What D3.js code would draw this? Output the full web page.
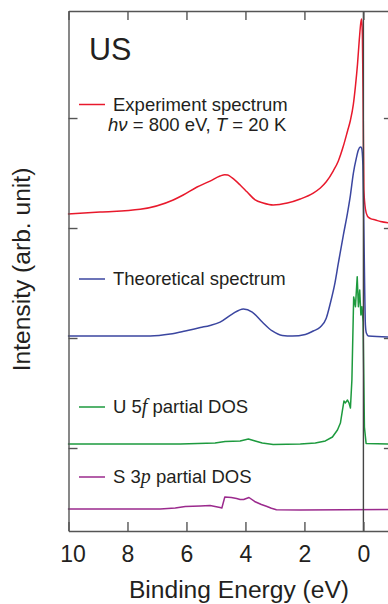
<!DOCTYPE html>
<html>
<head>
<meta charset="utf-8">
<script src="https://cdn.jsdelivr.net/npm/d3@7"></script>
<style>
  body { margin: 0; background: #fff; }
  svg { display: block; font-family: "Liberation Sans", Arial, Helvetica, sans-serif; }
  .axis path, .axis line { stroke: #555; stroke-width: 1.4; }
  .axis text { fill: #231f20; font-size: 23px; }
</style>
</head>
<body>
<div id="chart"></div>
<script>
// 横轴刻度 (binding energy, eV)
const xTicks = [10, 8, 6, 4, 2, 0];
const yTicks = [0, 1, 2, 3];

// 实验谱 [E, intensity]
const expSpectrum = [
  [10.02, 2.127], [8.93, 2.145], [7.57, 2.170], [6.45, 2.255], [6.11, 2.300],
  [5.64, 2.373], [5.20, 2.427], [4.86, 2.473], [4.70, 2.485], [4.60, 2.482],
  [4.45, 2.455], [4.18, 2.391], [3.94, 2.327], [3.67, 2.255], [3.40, 2.227],
  [3.06, 2.209], [2.58, 2.227], [2.14, 2.264], [1.70, 2.318], [1.46, 2.364],
  [1.26, 2.420], [1.02, 2.520], [0.85, 2.610], [0.68, 2.745], [0.54, 2.880],
  [0.44, 2.980], [0.34, 3.127], [0.27, 3.290], [0.20, 3.490], [0.14, 3.710],
  [0.085, 3.873], [0.06, 3.900], [0.034, 3.755], [0.007, 3.070], [-0.017, 2.345],
  [-0.068, 2.173], [-0.136, 2.109], [-0.24, 2.086], [-0.41, 2.073], [-0.58, 2.059],
  [-1.02, 2.045]
];

// 理论谱
const theorySpectrum = [
  [10.02, 1.018], [7.23, 1.018], [6.55, 1.036], [6.04, 1.064], [5.53, 1.095],
  [5.20, 1.114], [4.86, 1.145], [4.45, 1.218], [4.07, 1.264], [3.77, 1.236],
  [3.43, 1.145], [3.09, 1.064], [2.75, 1.023], [2.41, 1.018], [1.97, 1.032],
  [1.70, 1.064], [1.46, 1.100], [1.26, 1.180], [1.12, 1.318], [0.98, 1.480],
  [0.85, 1.680], [0.68, 1.936], [0.54, 2.136], [0.44, 2.300], [0.34, 2.500],
  [0.24, 2.636], [0.17, 2.709], [0.10, 2.736], [0.06, 2.727], [0.017, 2.573],
  [-0.017, 1.980], [-0.044, 1.436], [-0.068, 1.118], [-0.10, 1.045], [-0.17, 1.018],
  [-1.02, 1.009]
];

// U 5f 分态密度
const u5fDos = [
  [10.02, 0.036], [6.21, 0.036], [5.03, 0.045], [4.69, 0.059], [4.18, 0.064],
  [3.90, 0.082], [3.67, 0.064], [3.43, 0.045], [3.06, 0.032], [2.14, 0.036],
  [1.63, 0.045], [1.29, 0.064], [1.05, 0.100], [0.88, 0.164], [0.78, 0.227],
  [0.71, 0.345], [0.66, 0.427], [0.61, 0.410], [0.54, 0.436], [0.49, 0.410],
  [0.44, 0.364], [0.39, 0.620], [0.33, 1.373], [0.27, 1.285], [0.21, 1.557],
  [0.17, 1.285], [0.126, 1.436], [0.085, 1.209], [0.05, 1.285], [0.01, 1.145],
  [-0.034, 0.190], [-0.092, 0.041], [-1.02, 0.036]
];

// S 3p 分态密度
const s3pDos = [
  [10.02, -0.555], [6.89, -0.555], [6.38, -0.545], [6.04, -0.532], [5.53, -0.527],
  [5.20, -0.523], [4.86, -0.541], [4.80, -0.545], [4.70, -0.445], [4.48, -0.450],
  [4.30, -0.459], [4.18, -0.468], [4.06, -0.468], [3.88, -0.450], [3.69, -0.486],
  [3.46, -0.514], [3.29, -0.530], [3.12, -0.548], [2.95, -0.561], [2.14, -0.564],
  [-1.02, -0.559]
];

const width = 388, height = 604;
const plotLeft = 68.5, plotRight = 392.9, plotTop = 11, plotBottom = 531;

const svg = d3.select('#chart')
  .append('svg')
  .attr('width', width)
  .attr('height', height);

// 比例尺
const x = d3.scaleLinear().domain([10, -1]).range([plotLeft, plotRight]);
const y = d3.scaleLinear().domain([-0.7545, 3.973]).range([plotBottom, plotTop]);

// 曲线
const series = [
  { data: expSpectrum, color: '#e8192c', curve: d3.curveMonotoneX },
  { data: theorySpectrum, color: '#3b46a0', curve: d3.curveMonotoneX },
  { data: u5fDos, color: '#1d9a3e', curve: d3.curveLinear },
  { data: s3pDos, color: '#9b2a8d', curve: d3.curveLinear }
];

series.forEach(s => {
  const line = d3.line()
    .x(d => x(d[0]))
    .y(d => y(d[1]))
    .curve(s.curve);
  svg.append('path')
    .datum(s.data)
    .attr('d', line)
    .attr('fill', 'none')
    .attr('stroke', s.color)
    .attr('stroke-width', 1.5)
    .attr('stroke-linejoin', 'round');
});

// 零点竖线
svg.append('line')
  .attr('x1', x(0)).attr('x2', x(0))
  .attr('y1', plotTop).attr('y2', plotBottom)
  .attr('stroke', '#444')
  .attr('stroke-width', 1.4);

// 坐标轴
svg.append('g')
  .attr('class', 'axis')
  .attr('transform', `translate(0, ${plotBottom})`)
  .call(d3.axisBottom(x).tickValues(xTicks).tickSizeInner(-9).tickSizeOuter(0).tickPadding(15))
  .selectAll('text')
  .attr('dx', d => d === 10 ? 4 : 0);

svg.append('g')
  .attr('class', 'axis')
  .attr('transform', `translate(0, ${plotTop})`)
  .call(d3.axisTop(x).tickValues(xTicks).tickSizeInner(-9).tickSizeOuter(0).tickFormat(''));

svg.append('g')
  .attr('class', 'axis')
  .attr('transform', `translate(${plotLeft}, 0)`)
  .call(d3.axisLeft(y).tickValues(yTicks).tickSizeInner(-9).tickSizeOuter(0).tickFormat(''));

svg.append('g')
  .attr('class', 'axis')
  .attr('transform', `translate(${plotRight}, 0)`)
  .call(d3.axisRight(y).tickValues(yTicks).tickSizeInner(-9).tickSizeOuter(0).tickFormat(''));

// 轴标题
svg.append('text')
  .attr('x', 239)
  .attr('y', 598)
  .attr('text-anchor', 'middle')
  .attr('fill', '#231f20')
  .style('font-size', '24.6px')
  .text('Binding Energy (eV)');

svg.append('text')
  .attr('transform', 'translate(30, 269.5) rotate(-90)')
  .attr('text-anchor', 'middle')
  .attr('fill', '#231f20')
  .style('font-size', '24.6px')
  .text('Intensity (arb. unit)');

// 样品名
svg.append('text')
  .attr('x', 89)
  .attr('y', 60)
  .attr('fill', '#231f20')
  .style('font-size', '30.5px')
  .text('US');

// 图例
const serif = '"Liberation Serif", "Times New Roman", serif';
const legend = [
  { y: 104.5, color: '#e8192c', parts: [['Experiment spectrum']] },
  { y: 279, color: '#3b46a0', parts: [['Theoretical spectrum']] },
  { y: 407, color: '#1d9a3e', parts: [['U 5'], ['f', 'serif'], [' partial DOS']] },
  { y: 477, color: '#9b2a8d', parts: [['S 3'], ['p', 'serif'], [' partial DOS']] }
];

legend.forEach(l => {
  svg.append('line')
    .attr('x1', 79).attr('x2', 105)
    .attr('y1', l.y).attr('y2', l.y)
    .attr('stroke', l.color)
    .attr('stroke-width', 1.5);
  const t = svg.append('text')
    .attr('x', 113)
    .attr('y', l.y + 6)
    .attr('fill', '#231f20')
    .style('font-size', '18.5px');
  l.parts.forEach(p => {
    const ts = t.append('tspan').text(p[0]);
    if (p[1] === 'serif') {
      ts.style('font-family', serif).style('font-style', 'italic').style('font-size', '20px');
    }
  });
});

// 实验条件
const cond = svg.append('text')
  .attr('x', 108)
  .attr('y', 131)
  .attr('fill', '#231f20')
  .style('font-size', '18.5px');
cond.append('tspan').style('font-style', 'italic').text('h\u03bd');
cond.append('tspan').text(' = 800 eV, ');
cond.append('tspan').style('font-style', 'italic').text('T');
cond.append('tspan').text(' = 20 K');
</script>
</body>
</html>
